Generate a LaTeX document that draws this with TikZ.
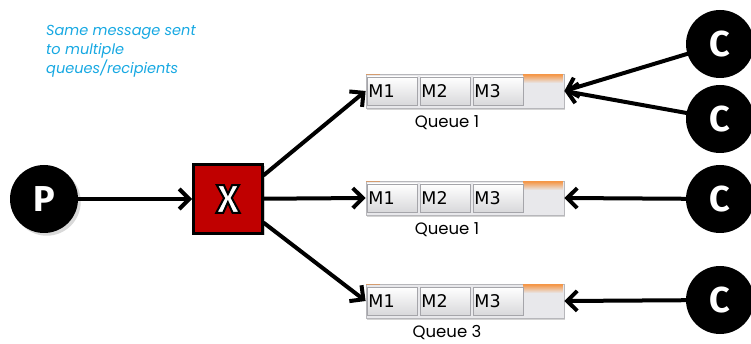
\documentclass[tikz,border=0pt]{standalone}
\usepackage{fontspec}
\setmainfont{DejaVu Sans}
\newfontfamily\letterfont{Fira Sans}[UprightFont=* Bold]
\newfontfamily\geofont{Poppins}
\usetikzlibrary{arrows.meta,shadows,shapes.geometric,fadings}
\definecolor{noteblue}{RGB}{22,168,226}
\definecolor{xred}{RGB}{192,0,0}
\definecolor{cellgray}{RGB}{232,232,235}
\definecolor{cellborder}{RGB}{165,165,170}
\definecolor{qorange}{RGB}{245,150,70}
\newcommand\outlinedtext[1]{\special{pdf:code q 2 Tr 2 w 0 G 1 g}#1\special{pdf:code Q}}
\tikzset{
  actor/.style={circle,fill=black,minimum size=68pt,inner sep=0pt,text=white,font=\letterfont\fontsize{36}{36}\selectfont},
  xbox/.style={draw=black,line width=3pt,fill=xred,minimum size=69pt,inner sep=0pt,font=\letterfont\fontsize{40}{40}\selectfont},
  flow/.style={line width=4pt,line cap=round,-{Straight Barb[length=10pt,width=20pt,line width=4pt]}},
  cell/.style={draw=cellborder,line width=0.8pt,top color=white,bottom color=cellgray!85!gray,minimum width=50pt,minimum height=28pt,inner sep=0pt,text width=48pt,align=left,font=\fontsize{17.5}{17.5}\selectfont},
  qbar/.style={draw=cellborder!80!white,line width=0.8pt,fill=cellgray,minimum width=198pt,minimum height=34pt,inner sep=0pt,drop shadow={shadow xshift=1pt,shadow yshift=-2pt,opacity=0.35}},
  qlabel/.style={font=\geofont\fontsize{16.5}{16.5}\selectfont},
  note/.style={text=noteblue,align=left,anchor=north west,font=\geofont\itshape\fontsize{14.5}{19}\selectfont,inner sep=0pt}
}
\begin{document}
\begin{tikzpicture}[x=1pt,y=-1pt]
\useasboundingbox (0,0) rectangle (751,344);
\node[note] (note) at (46,25) {Same message sent\\to multiple\\queues/recipients};
\node[actor,drop shadow={opacity=0.3}] (P) at (44,199) {P};
\node[xbox,drop shadow={shadow xshift=2pt,shadow yshift=-2pt,opacity=0.4}] (X) at (228,199) {\outlinedtext{X}};
% queues
\foreach \q/\y/\lab in {qa/91/Queue 1,qb/198/Queue 1,qc/301/Queue 3}{
  \node[qbar] (\q) at (465,\y) {};
  \fill[qorange,path fading=south] (523,\y-16.5) rectangle (563,\y-8);
  \draw[qorange!60!cellborder,line width=0.8pt] (366,\y-17) -- (380,\y-17);
  \node[cell,anchor=west] (\q m1) at (367,\y) {M1};
  \node[cell,anchor=west] (\q m2) at (420,\y) {M2};
  \node[cell,anchor=west] (\q m3) at (473,\y) {M3};
  \node[qlabel] (\q l) at (447,\y+32) {\lab};
}
\node[actor] (C1) at (720,44) {C};
\node[actor] (C2) at (720,119) {C};
\node[actor] (C3) at (720,199) {C};
\node[actor] (C4) at (720,300) {C};
% connectors
\draw[flow] (P) -- (X);
\draw[flow] (X.north east) ++(0,12) coordinate (xa) -- (qa.west);
\draw[flow] (X) -- (qb.west);
\draw[flow] (X.south east) ++(0,-12) coordinate (xc) -- (qc.west);
\draw[flow] (C1) -- (qa.east);
\draw[flow] (C2) -- (qa.east);
\draw[flow] (C3) -- (qb.east);
\draw[flow] (C4) -- (qc.east);
\end{tikzpicture}
\end{document}
